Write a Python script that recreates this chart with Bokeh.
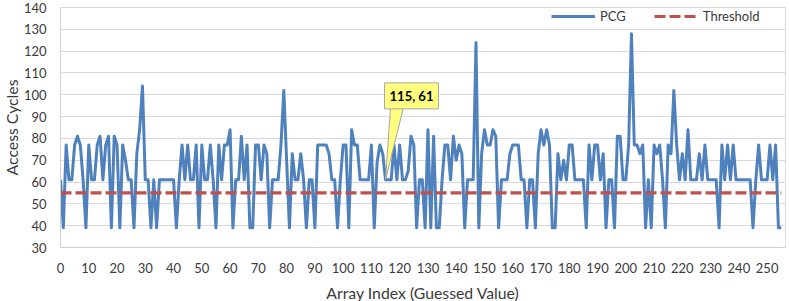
from bokeh.plotting import figure
from bokeh.models import Range1d, Legend, LegendItem, Label, FixedTicker, ColumnDataSource
from bokeh.embed import file_html
from bokeh.resources import INLINE

# ---- data ----
pcg = [
    61, 39, 77, 61, 61, 77, 81, 77, 61, 39, 77, 61, 61, 77, 81, 61,
    77, 81, 39, 81, 77, 39, 77, 70, 61, 61, 39, 73, 84, 104, 61, 61,
    39, 61, 39, 61, 61, 61, 61, 61, 61, 39, 61, 77, 61, 77, 61, 61,
    77, 39, 77, 61, 61, 77, 61, 39, 77, 61, 77, 77, 84, 39, 61, 61,
    81, 61, 77, 39, 39, 77, 77, 61, 77, 73, 39, 61, 61, 61, 77, 102,
    70, 39, 73, 61, 61, 73, 61, 39, 61, 61, 39, 77, 77, 77, 77, 73,
    61, 61, 39, 61, 77, 77, 39, 84, 77, 77, 61, 61, 61, 61, 77, 39,
    69, 77, 73, 61, 61, 61, 77, 61, 77, 61, 61, 65, 81, 77, 39, 61,
    61, 39, 84, 39, 81, 39, 39, 61, 77, 77, 61, 81, 70, 77, 73, 39,
    61, 61, 61, 124, 39, 73, 84, 77, 77, 84, 81, 39, 61, 61, 61, 73,
    77, 77, 77, 61, 61, 39, 61, 61, 39, 73, 84, 77, 84, 77, 39, 39,
    73, 61, 70, 61, 77, 77, 61, 61, 61, 61, 39, 77, 61, 77, 77, 61,
    73, 39, 61, 61, 39, 81, 81, 61, 61, 77, 128, 77, 77, 73, 77, 39,
    61, 39, 77, 73, 77, 61, 39, 77, 73, 102, 77, 61, 73, 61, 84, 61,
    61, 61, 73, 61, 77, 61, 61, 61, 61, 39, 77, 61, 77, 61, 77, 61,
    61, 61, 61, 61, 61, 39, 61, 77, 61, 61, 61, 77, 61, 77, 39, 39,
]
array_index = list(range(len(pcg)))
threshold_value = 55
threshold = [threshold_value] * len(pcg)
x_ticks = list(range(0, 251, 10))
y_ticks = list(range(30, 141, 10))
note_index = 115

FONT = "Lato"
TXT = "#3a3a3a"

X0, X1 = 0, 256.5
Y0, Y1 = 30, 140
FRAME_W, FRAME_H = 725, 240

p = figure(frame_width=FRAME_W, frame_height=FRAME_H, output_backend="svg", toolbar_location=None,
           x_range=Range1d(X0, X1), y_range=Range1d(Y0, Y1),
           min_border_left=68, min_border_right=4, min_border_top=15, min_border_bottom=54)
p.margin = (-8, 0, 0, -8)
p.background_fill_color = "white"
p.border_fill_color = "white"
p.outline_line_color = "#D9D9D9"

# axes
p.xaxis.ticker = FixedTicker(ticks=x_ticks)
p.yaxis.ticker = FixedTicker(ticks=y_ticks)
for ax in (p.xaxis[0], p.yaxis[0]):
    ax.major_tick_line_color = None
    ax.minor_tick_line_color = None
    ax.major_tick_out = 0
    ax.major_tick_in = 0
    ax.axis_line_color = "#D0D0D0"
    ax.major_label_text_font = FONT
    ax.major_label_text_font_size = "13px"
    ax.major_label_text_color = TXT
    ax.axis_label_text_font = FONT
    ax.axis_label_text_font_size = "15.8px"
    ax.axis_label_text_font_style = "normal"
    ax.axis_label_text_color = TXT
p.xaxis.axis_label = "Array Index (Guessed Value)"
p.yaxis.axis_label = "Access Cycles"
p.xaxis.major_label_standoff = 15
p.xaxis.axis_label_standoff = 7
p.yaxis.major_label_standoff = 14
p.yaxis.axis_label_standoff = 0

p.xgrid.grid_line_color = None
p.ygrid.grid_line_color = "#D9D9D9"
p.ygrid.grid_line_width = 1

src = ColumnDataSource(dict(x=array_index, y=pcg, t=threshold))
r_pcg = p.line("x", "y", source=src, line_color="#4F81BD", line_width=3, line_join="round")
r_thr = p.line("x", "t", source=src, line_color="#C0504D", line_width=3.2, line_dash="11 4")

# callout
px_x = FRAME_W / (X1 - X0)
px_y = FRAME_H / (Y1 - Y0)
nx, ny = note_index, pcg[note_index]
rise = 73
p.patch([nx, nx + 5 / px_x, nx + 18 / px_x], [ny, ny + rise / px_y, ny + rise / px_y],
        fill_color="#FFFF80", line_color="#A6A6A6", line_width=1)
note = Label(x=nx, y=ny, text=f"{nx}, {ny}", x_offset=-1, y_offset=rise - 2,
             text_font=FONT, text_font_style="bold", text_font_size="13px",
             text_color="black", text_align="left", text_baseline="bottom",
             background_fill_color="#FFFF80", border_line_color="#A6A6A6",
             padding=5)
p.add_layout(note)

legend = Legend(items=[LegendItem(label="PCG", renderers=[r_pcg]),
                       LegendItem(label="Threshold", renderers=[r_thr])],
                orientation="horizontal", location=(489, FRAME_H - 19),
                glyph_width=44, glyph_height=14, label_height=14, label_standoff=5,
                spacing=28, padding=2, margin=0,
                label_text_font=FONT, label_text_font_size="13px", label_text_color=TXT,
                background_fill_alpha=0, border_line_alpha=0)
p.add_layout(legend)

open("out.html", "w").write(file_html(p, INLINE))
